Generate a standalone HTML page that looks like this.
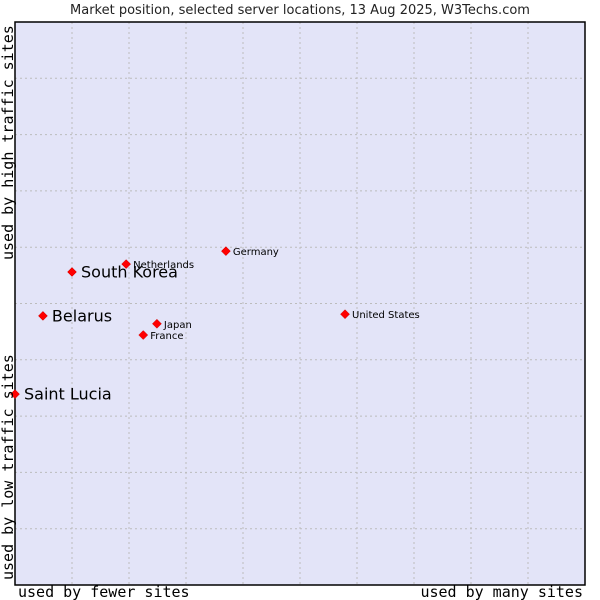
<!DOCTYPE html>
<html><head><meta charset="utf-8"><style>
body{margin:0;background:#fff;width:600px;height:600px;overflow:hidden}
svg{display:block;font-family:"DejaVu Sans","Liberation Sans",sans-serif}
.mono{font-family:"DejaVu Sans Mono","Liberation Mono",monospace}
</style></head><body>
<svg id="chart" width="600" height="600">
<text x="300" y="14" text-anchor="middle" font-size="13" fill="#222">Market position, selected server locations, 13 Aug 2025, W3Techs.com</text>
<rect x="15" y="22" width="570" height="563" fill="#e3e4f8"/>
<g id="grid"></g>
<rect x="15" y="22" width="570" height="563" fill="none" stroke="#000" stroke-width="1.5"/>
<g id="marks"></g>
<text class="mono" x="18" y="597" font-size="15">used by fewer sites</text>
<text class="mono" x="583" y="597" font-size="15" text-anchor="end">used by many sites</text>
<text class="mono" transform="translate(13,580) rotate(-90)" font-size="15">used by low traffic sites</text>
<text class="mono" transform="translate(13,260) rotate(-90)" font-size="15">used by high traffic sites</text>
</svg>
<script>
const names=["Saint Lucia","Belarus","South Korea","Netherlands","Germany","Japan","France","United States"];
const xVals=[0,0.49,1.0,1.95,3.70,2.49,2.25,5.79];
const yVals=[3.39,4.78,5.56,5.70,5.93,4.64,4.44,4.81];
const big=[true,true,true,false,false,false,false,false];
const X0=15,X1=585,Y0=585,Y1=22;
const sx=v=>X0+v*(X1-X0)/10, sy=v=>Y0-v*(Y0-Y1)/10;
const NS="http://www.w3.org/2000/svg";
const grid=document.getElementById('grid');
for(let i=1;i<10;i++){
  const v=document.createElementNS(NS,'line');
  v.setAttribute('x1',sx(i));v.setAttribute('x2',sx(i));v.setAttribute('y1',Y1);v.setAttribute('y2',Y0);
  v.setAttribute('stroke','#bcbcbc');v.setAttribute('stroke-dasharray','2,3');
  
  
  grid.appendChild(v);
  const h=document.createElementNS(NS,'line');
  h.setAttribute('y1',sy(i));h.setAttribute('y2',sy(i));h.setAttribute('x1',X0);h.setAttribute('x2',X1);
  h.setAttribute('stroke','#bcbcbc');h.setAttribute('stroke-dasharray','2,3');
  
  
  grid.appendChild(h);
}
const marks=document.getElementById('marks');
names.forEach((n,i)=>{
  const x=sx(xVals[i]),y=sy(yVals[i]);
  const p=document.createElementNS(NS,'path');
  p.setAttribute('d',`M${x} ${y-4.5}L${x+4.5} ${y}L${x} ${y+4.5}L${x-4.5} ${y}Z`);
  p.setAttribute('fill','#f00');p.setAttribute('stroke','#c00');p.setAttribute('stroke-width','0.5');
  
  
  marks.appendChild(p);
  const t=document.createElementNS(NS,'text');
  t.setAttribute('x',x+(big[i]?9:7));t.setAttribute('y',y+(big[i]?5.5:4));
  t.setAttribute('font-size',big[i]?16:10);t.setAttribute('fill','#000');
  t.textContent=n;
  
  
  marks.appendChild(t);
});
</script>
</body></html>
